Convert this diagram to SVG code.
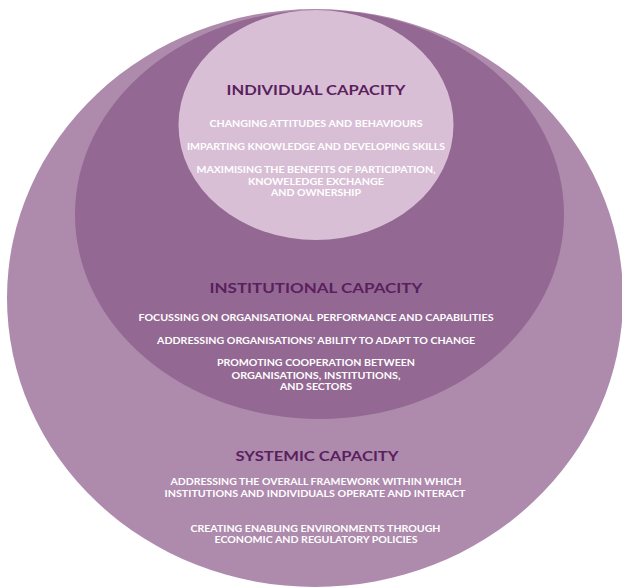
<svg xmlns="http://www.w3.org/2000/svg" width="622" height="587" viewBox="0 0 622 587">
  <style>
    .title { font-family: Lato, "Liberation Sans", sans-serif; font-weight: bold; font-size: 14px; fill: #5a1f5e; text-anchor: middle; }
    .body { font-family: Lato, "Liberation Sans", sans-serif; font-weight: bold; font-size: 8.5px; fill: #ffffff; text-anchor: middle; }
  </style>
  <rect width="622" height="587" fill="#ffffff"/>
  <g id="systemic">
    <ellipse cx="315" cy="298" rx="308" ry="289" fill="#ae8aad"/>
  </g>
  <g id="institutional">
    <ellipse cx="319.5" cy="214.5" rx="244.5" ry="204.5" fill="#936893"/>
  </g>
  <g id="individual">
    <ellipse cx="316" cy="125" rx="137.5" ry="115" fill="#d8bfd6"/>
  </g>
  <g id="labels">
    <text class="title" x="316" y="95" textLength="179" lengthAdjust="spacingAndGlyphs">INDIVIDUAL CAPACITY</text>
    <text class="body" x="316" y="127" textLength="213" lengthAdjust="spacingAndGlyphs">CHANGING ATTITUDES AND BEHAVIOURS</text>
    <text class="body" x="316" y="150" textLength="258" lengthAdjust="spacingAndGlyphs">IMPARTING KNOWLEDGE AND DEVELOPING SKILLS</text>
    <text class="body" x="316" y="173" textLength="239" lengthAdjust="spacingAndGlyphs">MAXIMISING THE BENEFITS OF PARTICIPATION,</text>
    <text class="body" x="316" y="185" textLength="136" lengthAdjust="spacingAndGlyphs">KNOWELEDGE EXCHANGE</text>
    <text class="body" x="316" y="196" textLength="90" lengthAdjust="spacingAndGlyphs">AND OWNERSHIP</text>

    <text class="title" x="316" y="293" textLength="213" lengthAdjust="spacingAndGlyphs">INSTITUTIONAL CAPACITY</text>
    <text class="body" x="316" y="321" textLength="355" lengthAdjust="spacingAndGlyphs">FOCUSSING ON ORGANISATIONAL PERFORMANCE AND CAPABILITIES</text>
    <text class="body" x="316" y="344" textLength="318" lengthAdjust="spacingAndGlyphs">ADDRESSING ORGANISATIONS' ABILITY TO ADAPT TO CHANGE</text>
    <text class="body" x="316" y="366" textLength="198" lengthAdjust="spacingAndGlyphs">PROMOTING COOPERATION BETWEEN</text>
    <text class="body" x="316" y="379" textLength="169" lengthAdjust="spacingAndGlyphs">ORGANISATIONS, INSTITUTIONS,</text>
    <text class="body" x="316" y="390" textLength="72" lengthAdjust="spacingAndGlyphs">AND SECTORS</text>

    <text class="title" x="317" y="461" textLength="163" lengthAdjust="spacingAndGlyphs">SYSTEMIC CAPACITY</text>
    <text class="body" x="316" y="485" textLength="291" lengthAdjust="spacingAndGlyphs">ADDRESSING THE OVERALL FRAMEWORK WITHIN WHICH</text>
    <text class="body" x="315" y="497" textLength="301" lengthAdjust="spacingAndGlyphs">INSTITUTIONS AND INDIVIDUALS OPERATE AND INTERACT</text>
    <text class="body" x="315.5" y="532" textLength="250" lengthAdjust="spacingAndGlyphs">CREATING ENABLING ENVIRONMENTS THROUGH</text>
    <text class="body" x="316" y="543" textLength="203" lengthAdjust="spacingAndGlyphs">ECONOMIC AND REGULATORY POLICIES</text>
  </g>
</svg>
